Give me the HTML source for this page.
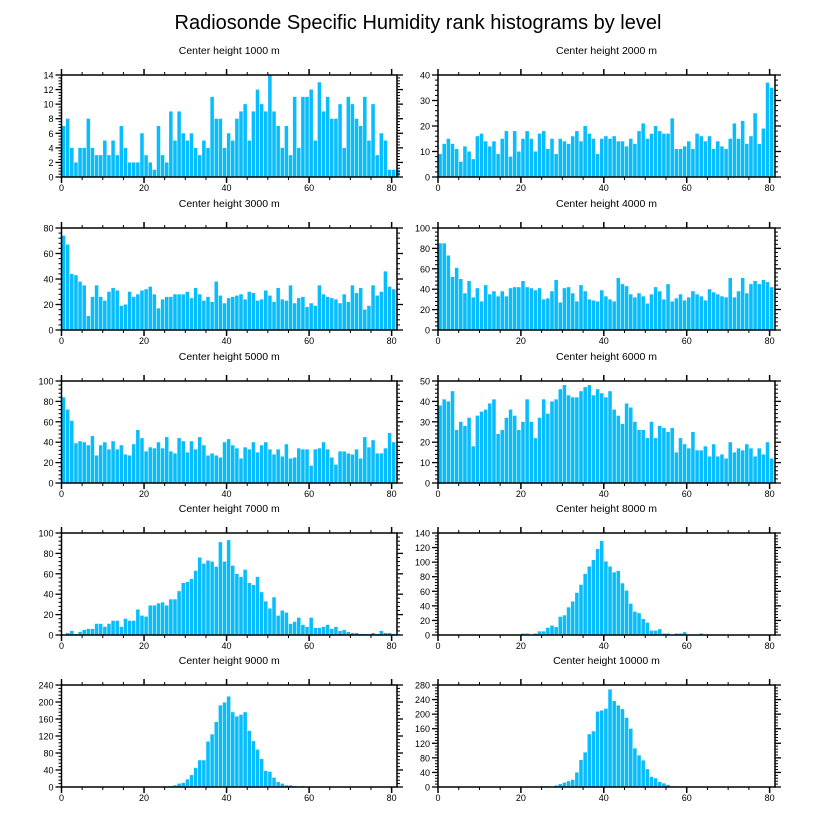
<!DOCTYPE html>
<html><head><meta charset="utf-8"><style>
body{margin:0;background:#fff;}
svg{display:block;font-family:"Liberation Sans",Arial,sans-serif;}
</style></head><body>
<svg id="chart" width="816" height="824" viewBox="0 0 816 824">
<text x="418" y="29" font-size="20" text-anchor="middle">Radiosonde Specific Humidity rank histograms by level</text>
</svg>
<script>
const titles = ["Center height 1000 m","Center height 2000 m","Center height 3000 m","Center height 4000 m","Center height 5000 m","Center height 6000 m","Center height 7000 m","Center height 8000 m","Center height 9000 m","Center height 10000 m"];
const xTicks = [0,20,40,60,80];
const yMax = [14,40,80,100,100,50,100,140,240,280];
const yStep = [2,10,20,20,20,10,20,20,40,40];
const h1000 = [7,8,4,2,4,4,8,4,3,3,5,3,5,3,7,4,2,2,2,6,3,2,1,7,3,2,9,5,9,6,5,6,4,3,5,4,11,8,8,4,6,5,8,9,10,5,9,12,10,9,14,9,7,4,7,3,11,4,11,11,12,5,13,9,11,8,8,10,4,11,10,8,7,11,5,10,3,6,5,1,1,1];
const h2000 = [9,13,15,13,11,6,12,10,7,16,17,14,12,14,9,15,18,8,18,10,15,18,15,10,17,18,11,15,9,15,14,13,16,18,14,20,17,15,9,15,16,15,16,14,14,12,15,13,18,21,15,17,20,18,17,17,23,11,11,12,14,11,17,16,14,16,11,14,12,11,15,21,15,22,13,16,25,13,19,37,35];
const h3000 = [74,67,44,43,38,35,11,26,35,26,23,30,33,31,19,20,30,26,28,31,32,34,28,17,24,26,26,28,28,28,30,25,33,28,23,26,22,38,27,21,25,26,27,28,24,30,29,23,24,31,27,22,33,24,23,35,21,25,26,18,21,19,35,28,26,25,24,21,28,22,35,29,33,16,19,35,27,30,46,34,32];
const h4000 = [85,85,73,52,61,50,36,48,32,41,28,44,35,38,33,38,33,41,42,42,48,42,41,39,41,30,31,38,49,27,41,42,36,28,44,38,30,29,28,39,33,30,28,51,45,43,35,32,36,33,26,35,42,38,30,45,28,31,35,29,32,38,35,33,29,40,37,35,33,32,51,32,38,51,36,45,48,45,49,47,42];
const h5000 = [84,72,61,39,41,40,37,46,27,37,40,33,41,33,37,28,27,38,52,44,31,35,34,40,34,45,31,29,44,41,30,41,33,45,37,27,29,27,25,40,43,37,34,24,35,33,40,30,37,40,33,28,33,26,38,24,25,34,33,33,17,33,34,40,33,25,18,31,31,29,28,33,24,45,35,42,29,29,34,49,40];
const h6000 = [38,41,40,45,26,30,28,32,18,33,35,36,39,41,24,26,32,36,33,26,30,41,30,22,32,41,34,40,41,46,48,43,42,42,45,47,48,43,46,44,42,45,36,33,29,39,37,30,26,26,22,30,22,28,27,25,27,15,22,19,17,25,16,16,18,13,19,13,14,12,20,15,17,16,19,17,13,17,14,20,12];
const h7000 = [0,2,4,1,3,5,6,6,11,11,8,11,14,14,8,16,14,14,25,19,18,29,29,31,32,29,35,35,43,51,52,55,63,76,70,73,72,67,91,72,93,68,60,57,64,51,49,57,42,33,26,37,19,24,22,11,13,17,10,8,17,7,7,8,10,6,8,4,5,3,2,2,1,1,1,2,1,4,2,2,1,1];
const h8000 = [0,0,0,0,0,0,0,0,0,0,0,0,0,0,0,0,0,0,0,0,2,2,0,2,5,5,10,13,11,25,27,38,46,58,69,84,94,103,118,129,101,94,86,88,71,61,43,32,30,22,17,6,6,8,2,2,0,2,2,4,0,0,0,2,0,0,0,0,0,0,0,0,0,0,0,0,0,0,0,0,0];
const h9000 = [0,0,0,0,0,0,0,0,0,0,0,0,0,0,0,0,0,0,0,0,0,0,0,0,0,0,2,4,8,10,18,28,45,63,63,107,124,153,192,199,213,176,166,170,176,132,108,88,66,38,36,22,12,8,4,4,2,1,2,0,0,0,0,0,0,0,0,0,0,0,0,0,0,0,0,0,0,0,0,0,0];
const h10000 = [0,0,0,0,0,0,0,0,0,0,0,0,0,0,0,0,0,0,0,0,0,0,0,0,0,2,2,0,4,8,12,16,20,40,74,95,145,153,207,210,215,268,236,224,214,190,160,106,87,73,49,28,24,14,10,6,2,2,1,0,0,0,0,0,0,0,0,0,0,0,0,0,0,0,0,0,0,0,0,0,0];
const series = [h1000,h2000,h3000,h4000,h5000,h6000,h7000,h8000,h9000,h10000];

const NS="http://www.w3.org/2000/svg";
const svg=document.getElementById('chart');
function mk(tag,attrs,parent){const e=document.createElementNS(NS,tag);for(const k in attrs)e.setAttribute(k,attrs[k]);(parent||svg).appendChild(e);return e;}
const XMAX=81.3;
for(let p=0;p<10;p++){
  const col=p%2,row=Math.floor(p/2);
  const L=col?438:61.5, R=col?775:397, T=[75,228,381,533,685][row], B=T+102;
  const g=mk('g',{});
  
  
  const xs=v=>L+(v/XMAX)*(R-L);
  const ys=v=>B-(v/yMax[p])*(B-T);
  const t=mk('text',{x:(L+R)/2,y:T-21,'font-size':10.5,'text-anchor':'middle'},g);
  t.textContent=titles[p];
  
  
  series[p].forEach((v,i)=>{
    if(v<=0)return;
    const r=mk('rect',{x:xs(i)+0.3,y:ys(Math.min(v,yMax[p])),width:xs(i+1)-xs(i)-0.6,height:B-ys(Math.min(v,yMax[p])),fill:'#08bdfd'},g);
    
    
  });
  mk('rect',{x:L,y:T,width:R-L,height:B-T,fill:'none',stroke:'#000','stroke-width':1.5},g);
  for(let v=0;v<=XMAX;v+=5){
    const maj=v%20===0, len=maj?6:3, x=xs(v);
    mk('line',{x1:x,x2:x,y1:T,y2:T-len,stroke:'#000','stroke-width':maj?1.5:1},g);
    mk('line',{x1:x,x2:x,y1:B,y2:B+len,stroke:'#000','stroke-width':maj?1.5:1},g);
  }
  xTicks.forEach(v=>{
    const tx=mk('text',{x:xs(v),y:B+14,'font-size':9,'text-anchor':'middle'},g);
    tx.textContent=v;
    
    
  });
  const minor=yStep[p]/5;
  for(let k=0;k<=yMax[p]/minor+1e-6;k++){
    const v=k*minor, maj=k%5===0, len=maj?6:3, y=ys(v);
    mk('line',{x1:L,x2:L-len,y1:y,y2:y,stroke:'#000','stroke-width':maj?1.3:1},g);
    mk('line',{x1:R,x2:R+len,y1:y,y2:y,stroke:'#000','stroke-width':maj?1.3:1},g);
    if(maj){
      const ty=mk('text',{x:L-8,y:y+3.5,'font-size':9,'text-anchor':'end'},g);
      ty.textContent=Math.round(v);
      
      
    }
  }
}
</script>
</body></html>
